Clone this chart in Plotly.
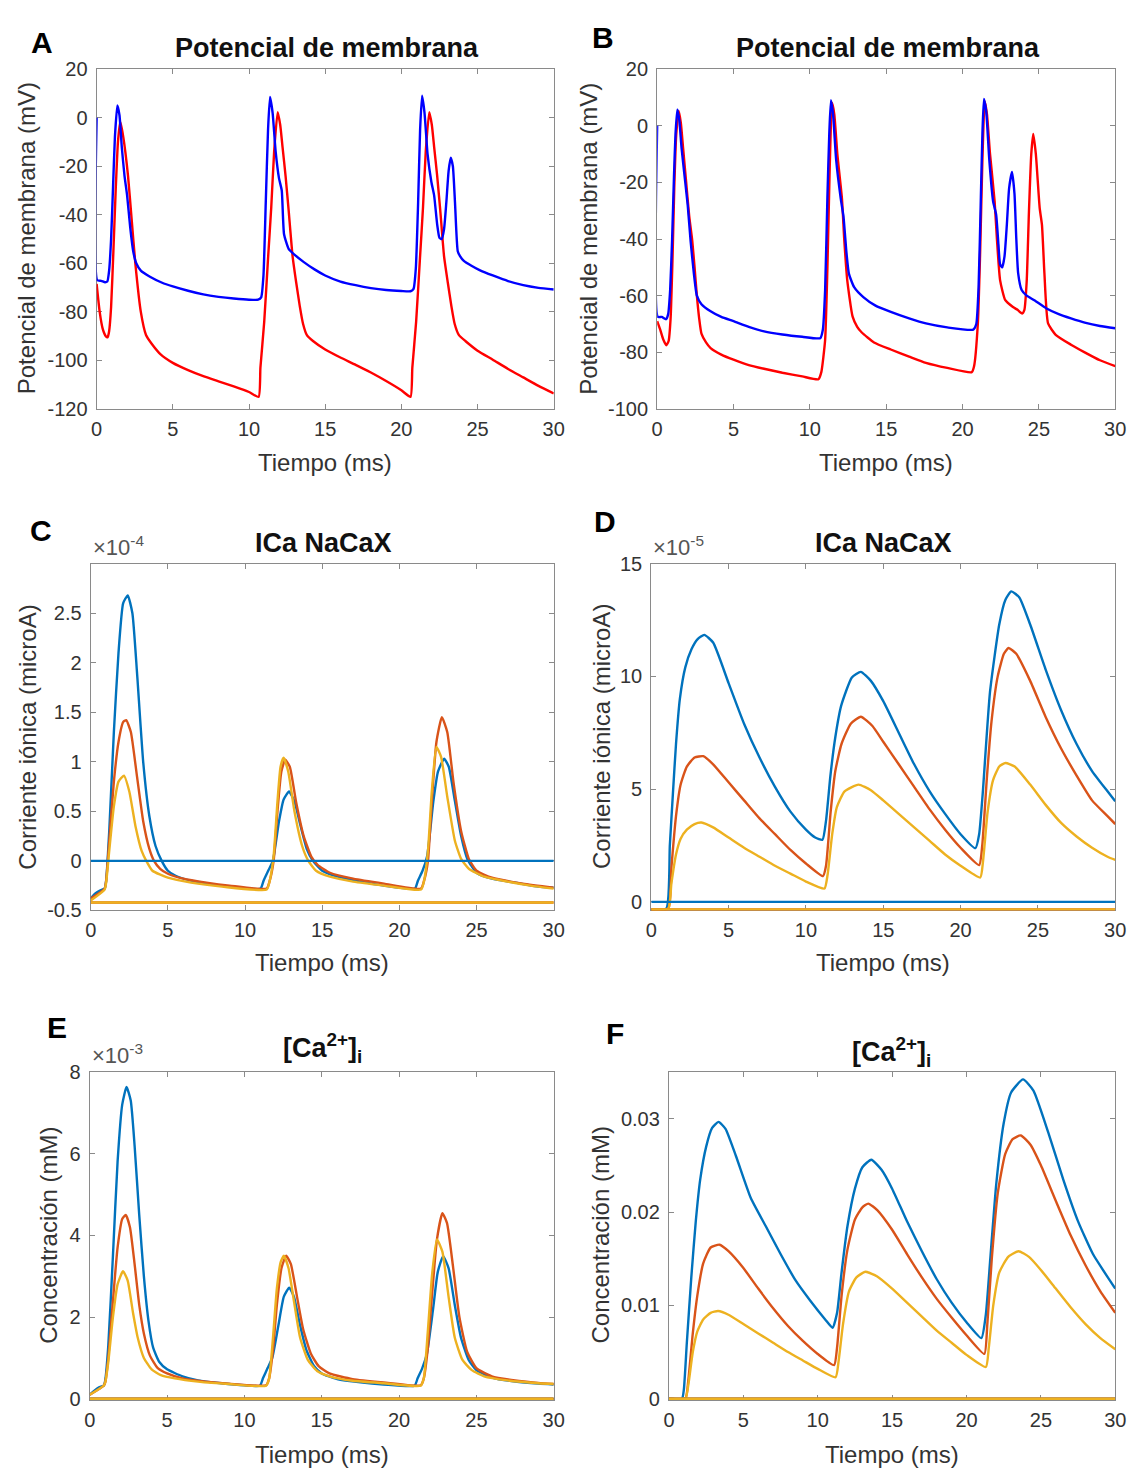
import plotly.graph_objects as go

W, H = 1143, 1476

# ---------------- DATA ----------------
time_ticks = [0, 5, 10, 15, 20, 25, 30]

# Panel A: membrane potential (mV)
A_blue = [(0,0),(0.04,-67),(0.3,-67.2),(0.55,-67.8),(0.7,-67.5),(0.82,-63),(0.95,-50),(1.08,-28),(1.2,-8),(1.36,5),(1.5,1),(1.65,-12),(1.83,-24),(2.0,-32),(2.2,-45),(2.4,-55),(2.6,-60),(2.9,-63),(3.5,-65.5),(4.3,-68),(5.0,-69.5),(6.0,-71.3),(7.0,-72.8),(8.0,-73.8),(9.0,-74.5),(10.0,-75),(10.6,-75),(10.8,-74),(10.95,-65),(11.1,-35),(11.25,-5),(11.38,8.5),(11.55,2),(11.75,-14),(11.97,-25),(12.15,-30),(12.3,-48),(12.6,-54),(13.0,-56.5),(13.6,-59.5),(14.3,-62.5),(15.0,-65),(16.0,-67.5),(17.0,-69),(18.0,-70.2),(19.0,-71),(20.0,-71.4),(20.6,-71.5),(20.8,-70.5),(20.95,-62),(21.1,-35),(21.23,-5),(21.36,9),(21.52,2),(21.72,-15),(21.97,-26.5),(22.15,-32),(22.35,-44),(22.5,-49.5),(22.65,-50),(22.8,-46),(22.95,-35),(23.1,-22),(23.24,-16.5),(23.38,-20),(23.52,-35),(23.7,-55),(23.85,-57),(24.1,-59),(24.6,-61),(25.2,-63),(26.0,-65),(27.0,-67.3),(28.0,-69),(29.0,-70.1),(30.0,-70.8)]
A_red = [(0,-68.5),(0.2,-80),(0.4,-87),(0.6,-90),(0.72,-90.5),(0.82,-88),(0.95,-78),(1.1,-55),(1.25,-30),(1.4,-10),(1.55,-1.7),(1.75,-8),(2.06,-24),(2.3,-42),(2.54,-60),(2.9,-80),(3.24,-89.5),(3.6,-93),(4.2,-97.5),(5,-101),(6,-104),(7,-106.5),(8,-108.6),(9,-110.7),(10,-113),(10.63,-115),(10.75,-103),(11.0,-84),(11.25,-58),(11.46,-37),(11.65,-14),(11.88,2.3),(12.05,-3),(12.2,-12),(12.4,-24),(12.6,-38),(12.86,-57),(13.1,-68),(13.33,-77.5),(13.55,-85),(13.8,-89.6),(14.2,-92),(15,-95.5),(16,-98.8),(17,-101.8),(18,-105),(19,-108.5),(20,-112.3),(20.6,-115),(20.72,-103),(20.97,-84),(21.22,-58),(21.42,-37),(21.6,-14),(21.83,2.3),(22.0,-3),(22.15,-12),(22.35,-24),(22.55,-38),(22.8,-57),(23.05,-68),(23.28,-77.5),(23.5,-85),(23.78,-89.6),(24.2,-92),(25,-96),(26,-99.7),(27,-103.5),(28,-107),(29,-110.5),(30,-113.6)]

# Panel B: membrane potential (mV)
B_blue = [(0,0),(0.04,-67.5),(0.3,-67.5),(0.58,-68.3),(0.72,-66.5),(0.85,-58),(0.98,-40),(1.1,-18),(1.2,-3),(1.32,5.8),(1.45,2),(1.6,-8),(1.84,-20),(2.0,-28),(2.19,-40.7),(2.4,-52),(2.6,-60),(2.9,-63),(3.5,-65.5),(4.2,-67.5),(5.0,-69),(6,-71),(7,-72.6),(8.2,-73.7),(9.5,-74.5),(10.68,-75),(10.85,-72),(11.0,-58),(11.15,-25),(11.27,-3),(11.38,9),(11.52,4),(11.72,-12),(12.02,-25.6),(12.2,-32),(12.4,-45),(12.56,-52.3),(12.9,-57),(13.5,-60.5),(14.3,-63.5),(15.3,-65.7),(16.5,-68),(17.6,-69.8),(19,-71.2),(20.7,-72),(20.9,-70),(21.05,-57),(21.2,-25),(21.3,-3),(21.4,9.5),(21.55,5),(21.75,-12),(22.0,-26.7),(22.2,-31.4),(22.35,-42),(22.46,-49),(22.6,-50),(22.75,-46),(22.9,-35),(23.05,-22),(23.24,-16.3),(23.4,-24),(23.52,-40),(23.64,-52),(23.87,-58),(24.2,-60),(24.7,-61.6),(25.5,-64.5),(26.3,-66.5),(27.1,-68),(28,-69.5),(29,-70.7),(30,-71.5)]
B_red = [(0,-69),(0.2,-72),(0.4,-75.5),(0.6,-77.5),(0.75,-76),(0.88,-68),(1.0,-48),(1.12,-22),(1.25,-3),(1.41,5.2),(1.55,1),(1.7,-8),(1.9,-20),(2.1,-32),(2.3,-40.7),(2.45,-50),(2.6,-60),(2.75,-68),(2.9,-73.4),(3.2,-76.5),(3.5,-78.5),(4.2,-80.8),(5.0,-82.6),(6,-84.5),(7,-85.8),(8.2,-87.2),(9.5,-88.5),(10.56,-89.5),(10.75,-87),(11.0,-75.6),(11.15,-50),(11.3,-15),(11.45,8.1),(11.6,4),(11.8,-10),(12.1,-25.6),(12.25,-40),(12.45,-54.6),(12.8,-67.4),(13.1,-71),(13.4,-73),(14.2,-76.5),(15.3,-79),(16.5,-81.5),(17.6,-83.7),(19,-85.5),(20.6,-87),(20.75,-85),(21.0,-70),(21.15,-45),(21.3,-12),(21.45,8.7),(21.6,4),(21.8,-10),(22.1,-26.7),(22.25,-40),(22.46,-54.6),(22.8,-61.6),(23.3,-64),(23.6,-65),(23.9,-66.3),(24.05,-65),(24.2,-55),(24.35,-30),(24.5,-10),(24.63,-2.9),(24.8,-10),(25.05,-29),(25.2,-35),(25.36,-52),(25.6,-69.8),(26.1,-73.8),(27.1,-77.3),(28,-80),(29,-82.8),(30,-84.9)]

# Panel C: ICa NaCaX (x1e-4 microA)
C_blue = [(0,-0.38),(0.3,-0.33),(0.6,-0.3),(0.9,-0.28),(1.0,-0.2),(1.2,0.3),(1.5,1.3),(1.8,2.1),(2.1,2.6),(2.4,2.68),(2.7,2.5),(3.0,1.9),(3.4,1.0),(3.8,0.45),(4.2,0.15),(4.6,0.0),(5.0,-0.1),(5.5,-0.15),(6.5,-0.2),(8,-0.24),(9.5,-0.27),(11.0,-0.28),(11.2,-0.2),(11.5,-0.1),(11.8,0.0),(12.2,0.4),(12.5,0.62),(12.85,0.7),(13.2,0.6),(13.6,0.35),(14.0,0.12),(14.4,0.0),(15,-0.1),(16,-0.16),(17.5,-0.21),(19,-0.25),(21,-0.28),(21.2,-0.2),(21.5,-0.1),(21.8,0.05),(22.2,0.6),(22.5,0.9),(22.9,1.03),(23.2,0.95),(23.6,0.6),(24.0,0.25),(24.4,0.02),(25,-0.12),(26,-0.18),(27.5,-0.22),(29,-0.26),(30,-0.27)]
C_red = [(0,-0.38),(0.9,-0.28),(1.0,-0.2),(1.2,0.2),(1.5,0.8),(1.8,1.2),(2.1,1.4),(2.3,1.42),(2.6,1.3),(3.0,0.85),(3.4,0.4),(3.8,0.12),(4.1,0.0),(4.5,-0.08),(5,-0.13),(6,-0.18),(7.5,-0.22),(9,-0.25),(11.4,-0.28),(11.6,-0.2),(11.85,0.0),(12.1,0.5),(12.35,0.9),(12.6,1.02),(12.9,0.95),(13.3,0.6),(13.8,0.25),(14.3,0.04),(14.7,-0.04),(15.5,-0.12),(17,-0.18),(19,-0.23),(21.4,-0.28),(21.6,-0.2),(21.85,0.0),(22.1,0.6),(22.4,1.2),(22.75,1.45),(23.1,1.3),(23.5,0.8),(24.0,0.3),(24.5,0.02),(25,-0.1),(26,-0.17),(28,-0.23),(30,-0.27)]
C_yellow = [(0,-0.4),(0.9,-0.29),(1.0,-0.22),(1.2,0.1),(1.5,0.55),(1.8,0.8),(2.15,0.86),(2.5,0.7),(2.9,0.35),(3.3,0.1),(3.6,0.0),(4.0,-0.1),(5,-0.17),(6.5,-0.22),(8.5,-0.26),(11.4,-0.29),(11.6,-0.2),(11.85,0.05),(12.1,0.6),(12.3,0.95),(12.5,1.04),(12.8,0.9),(13.2,0.5),(13.7,0.15),(14.1,0.0),(14.6,-0.1),(15.5,-0.16),(17,-0.21),(19,-0.25),(21.4,-0.29),(21.6,-0.2),(21.85,0.1),(22.1,0.7),(22.4,1.15),(22.7,1.05),(23.1,0.65),(23.6,0.2),(24.0,0.02),(24.5,-0.08),(25.5,-0.16),(27,-0.21),(28.5,-0.25),(30,-0.28)]
C_flat_blue = [(0,0),(30,0)]
C_flat_red = [(0,-0.42),(30,-0.42)]
C_flat_yellow = [(0,-0.42),(30,-0.42)]

# Panel D: ICa NaCaX (x1e-5 microA)
D_blue = [(0,-0.34),(0.97,-0.3),(1.2,2.5),(1.4,4.8),(1.6,7.0),(1.85,9.0),(2.2,10.4),(2.6,11.2),(3.0,11.65),(3.43,11.84),(4,11.5),(5,9.7),(6,7.9),(7,6.4),(8,5.1),(9,4.0),(10,3.2),(10.6,2.85),(11.07,2.75),(11.3,3.6),(11.58,5.57),(11.9,7.3),(12.28,8.7),(12.97,9.95),(13.55,10.2),(14.2,9.8),(15,8.9),(16,7.5),(17,6.1),(18,4.9),(19,3.9),(20,3.0),(20.96,2.38),(21.2,3.0),(21.43,4.8),(21.9,9.3),(22.5,12.3),(22.9,13.4),(23.28,13.77),(23.8,13.5),(24.5,12.3),(25.5,10.3),(26.5,8.5),(27.5,7.0),(28.5,5.8),(29.5,4.9),(30,4.46)]
D_red = [(0,-0.34),(1.1,-0.3),(1.3,1.5),(1.6,3.8),(1.9,5.2),(2.3,6.0),(2.8,6.4),(3.36,6.46),(4,6.1),(5,5.3),(6,4.5),(7,3.7),(8,3.0),(9,2.3),(10,1.7),(11.1,1.14),(11.3,1.6),(11.6,4.0),(11.9,5.8),(12.3,7.0),(12.9,7.9),(13.55,8.21),(14.3,7.8),(15,7.1),(16,6.1),(17,5.1),(18,4.1),(19,3.2),(20,2.4),(21.2,1.63),(21.4,2.5),(21.7,5.5),(22.0,8.0),(22.4,10.0),(22.8,11.0),(23.1,11.26),(23.6,11.0),(24.5,9.8),(25.5,8.2),(26.5,6.8),(27.5,5.6),(28.5,4.5),(29.5,3.8),(30,3.45)]
D_yellow = [(0,-0.34),(1.1,-0.3),(1.3,0.8),(1.6,2.1),(1.9,2.8),(2.3,3.2),(2.8,3.45),(3.24,3.52),(4,3.3),(5,2.85),(6,2.4),(7,2.0),(8,1.6),(9,1.25),(10,0.9),(11.2,0.59),(11.4,1.2),(11.7,3.0),(12.0,4.2),(12.5,4.9),(13.4,5.2),(14.2,4.95),(15,4.5),(16,3.9),(17,3.3),(18,2.7),(19,2.1),(20,1.6),(21.27,1.08),(21.45,1.8),(21.75,4.0),(22.1,5.4),(22.5,6.0),(22.9,6.16),(23.5,6.0),(24.5,5.2),(25.5,4.3),(26.5,3.5),(27.5,2.9),(28.5,2.4),(29.5,2.0),(30,1.86)]
D_flat_blue = [(0,0),(30,0)]
D_flat_red = [(0,-0.34),(30,-0.34)]
D_flat_yellow = [(0,-0.34),(30,-0.34)]

# Panel E: [Ca2+]i (x1e-3 mM)
E_blue = [(0,0.1),(0.3,0.2),(0.6,0.28),(0.9,0.32),(1.0,0.45),(1.2,1.3),(1.5,3.5),(1.8,5.8),(2.1,7.2),(2.38,7.63),(2.65,7.3),(2.9,6.2),(3.2,4.5),(3.5,3.0),(3.8,1.9),(4.1,1.25),(4.5,0.9),(5,0.72),(6,0.55),(7,0.45),(8.5,0.38),(10,0.33),(11.0,0.32),(11.2,0.5),(11.5,0.75),(11.8,1.0),(12.2,1.8),(12.55,2.5),(12.9,2.72),(13.2,2.5),(13.6,1.8),(14.0,1.2),(14.5,0.8),(15,0.62),(16,0.48),(17.5,0.4),(19,0.35),(21.0,0.32),(21.2,0.5),(21.5,0.75),(21.8,1.1),(22.2,2.2),(22.5,3.1),(22.85,3.49),(23.2,3.2),(23.6,2.3),(24.0,1.5),(24.5,0.95),(25,0.7),(26,0.52),(27.5,0.42),(29,0.37),(30,0.35)]
E_red = [(0,0.1),(0.9,0.32),(1.0,0.4),(1.2,1.0),(1.5,2.4),(1.8,3.7),(2.1,4.4),(2.33,4.5),(2.6,4.2),(2.9,3.3),(3.2,2.3),(3.5,1.6),(3.9,1.05),(4.4,0.75),(5,0.62),(6,0.5),(7.5,0.42),(9,0.37),(11.4,0.33),(11.6,0.5),(11.85,1.2),(12.1,2.3),(12.4,3.2),(12.7,3.5),(13.0,3.3),(13.4,2.5),(13.8,1.7),(14.3,1.1),(14.8,0.8),(15.5,0.62),(17,0.48),(19,0.4),(21.4,0.33),(21.6,0.5),(21.85,1.2),(22.1,2.4),(22.45,3.9),(22.8,4.54),(23.1,4.3),(23.5,3.2),(23.9,2.0),(24.4,1.15),(25,0.75),(26,0.55),(27.5,0.45),(29,0.39),(30,0.36)]
E_yellow = [(0,0.1),(0.9,0.32),(1.0,0.4),(1.2,0.9),(1.5,2.0),(1.8,2.8),(2.15,3.12),(2.45,2.9),(2.8,2.1),(3.1,1.5),(3.5,1.0),(4.0,0.72),(4.6,0.58),(5.5,0.5),(7,0.42),(9,0.36),(11.4,0.32),(11.6,0.5),(11.85,1.5),(12.1,2.7),(12.35,3.35),(12.55,3.5),(12.85,3.2),(13.2,2.4),(13.6,1.5),(14.1,0.95),(14.7,0.68),(15.5,0.55),(17,0.44),(19,0.38),(21.4,0.32),(21.6,0.5),(21.85,1.6),(22.15,3.1),(22.45,3.9),(22.8,3.6),(23.2,2.5),(23.6,1.5),(24.1,0.95),(24.7,0.7),(25.5,0.55),(27,0.45),(29,0.38),(30,0.36)]
E_flat_blue = [(0,0),(30,0)]
E_flat_red = [(0,0),(30,0)]
E_flat_yellow = [(0,0),(30,0)]

# Panel F: [Ca2+]i (mM)
F_blue = [(0,0),(0.87,0),(1.0,0.001),(1.2,0.006),(1.5,0.013),(1.8,0.019),(2.1,0.0235),(2.5,0.027),(2.9,0.029),(3.33,0.02965),(3.8,0.0289),(4.5,0.026),(5.5,0.0215),(6.5,0.0185),(7.5,0.0155),(8.5,0.0127),(9.5,0.0105),(10.5,0.0085),(11.0,0.0076),(11.3,0.0092),(11.6,0.0135),(12.0,0.0185),(12.5,0.0225),(13.0,0.0248),(13.6,0.0256),(14.3,0.0245),(15,0.0225),(16,0.019),(17,0.0158),(18,0.0128),(19,0.0103),(20,0.0082),(21.0,0.0065),(21.3,0.009),(21.6,0.015),(22.0,0.023),(22.5,0.0295),(23.0,0.0328),(23.8,0.0342),(24.5,0.033),(25.5,0.0285),(26.5,0.0235),(27.5,0.019),(28.5,0.0155),(29.5,0.013),(30,0.0118)]
F_red = [(0,0),(1.1,0),(1.3,0.002),(1.6,0.007),(1.9,0.011),(2.3,0.0145),(2.8,0.0162),(3.4,0.0165),(4,0.0158),(5,0.014),(6,0.0118),(7,0.0097),(8,0.0078),(9,0.0062),(10,0.0048),(11.1,0.0036),(11.3,0.0055),(11.6,0.011),(12.0,0.016),(12.5,0.0192),(13.0,0.0205),(13.4,0.0209),(14,0.0202),(15,0.0181),(16,0.0155),(17,0.013),(18,0.0107),(19,0.0087),(20,0.0068),(21.2,0.0048),(21.4,0.008),(21.7,0.015),(22.1,0.022),(22.6,0.0262),(23.1,0.0278),(23.65,0.0282),(24.3,0.0272),(25,0.025),(26,0.0212),(27,0.0175),(28,0.0143),(29,0.0115),(30,0.0092)]
F_yellow = [(0,0),(1.1,0),(1.3,0.0015),(1.6,0.005),(1.9,0.0072),(2.3,0.0085),(2.8,0.0092),(3.3,0.0094),(4,0.009),(5,0.008),(6,0.007),(7,0.006),(8,0.005),(9,0.0041),(10,0.0032),(11.2,0.0023),(11.4,0.004),(11.7,0.008),(12.1,0.0115),(12.6,0.013),(13.2,0.0136),(14,0.0131),(15,0.0118),(16,0.0103),(17,0.0088),(18,0.0073),(19,0.006),(20,0.0047),(21.3,0.0034),(21.5,0.0055),(21.8,0.01),(22.2,0.0135),(22.8,0.0152),(23.5,0.0158),(24.2,0.0152),(25,0.0138),(26,0.0118),(27,0.0098),(28,0.008),(29,0.0065),(30,0.0053)]
F_flat_blue = [(0,0),(30,0)]
F_flat_red = [(0,0),(30,0)]
F_flat_yellow = [(0,0),(30,0)]

A_yticks = [-120, -100, -80, -60, -40, -20, 0, 20]
A_yticklabels = ["-120", "-100", "-80", "-60", "-40", "-20", "0", "20"]
B_yticks = [-100, -80, -60, -40, -20, 0, 20]
B_yticklabels = ["-100", "-80", "-60", "-40", "-20", "0", "20"]
C_yticks = [-0.5, 0, 0.5, 1, 1.5, 2, 2.5]
C_yticklabels = ["-0.5", "0", "0.5", "1", "1.5", "2", "2.5"]
D_yticks = [0, 5, 10, 15]
D_yticklabels = ["0", "5", "10", "15"]
E_yticks = [0, 2, 4, 6, 8]
E_yticklabels = ["0", "2", "4", "6", "8"]
F_yticks = [0, 0.01, 0.02, 0.03]
F_yticklabels = ["0", "0.01", "0.02", "0.03"]

# ---------------- STYLE / LAYOUT ----------------
FONT = "Liberation Sans, Arial, sans-serif"
TXT = "#333333"
MB, MR = "#0000FF", "#FF0000"
CB, CR, CY = "#0072BD", "#D95319", "#EDB120"

panels = [
    ("A", (92, 556, 59, 404), [-120, 20], A_yticks, A_yticklabels,
     [(A_red, MR), (A_blue, MB)]),
    ("B", (661, 1126, 59, 404), [-100, 20], B_yticks, B_yticklabels,
     [(B_red, MR), (B_blue, MB)]),
    ("C", (86, 556, 561, 913), [-0.5, 3.0], C_yticks, C_yticklabels,
     [(C_blue, CB), (C_red, CR), (C_yellow, CY), (C_flat_blue, CB), (C_flat_red, CR), (C_flat_yellow, CY)]),
    ("D", (655, 1126, 561, 913), [-0.38, 15], D_yticks, D_yticklabels,
     [(D_blue, CB), (D_red, CR), (D_yellow, CY), (D_flat_blue, CB), (D_flat_red, CR), (D_flat_yellow, CY)]),
    ("E", (85, 556, 1077, 1410), [-0.03, 8], E_yticks, E_yticklabels,
     [(E_blue, CB), (E_red, CR), (E_yellow, CY), (E_flat_blue, CB), (E_flat_red, CR), (E_flat_yellow, CY)]),
    ("F", (673, 1126, 1077, 1410), [-0.00013, 0.035], F_yticks, F_yticklabels,
     [(F_blue, CB), (F_red, CR), (F_yellow, CY), (F_flat_blue, CB), (F_flat_red, CR), (F_flat_yellow, CY)]),
]

fig = go.Figure()
layout_axes = {}
for i, (key, (l, r, t, b), yr, yt, ytl, series) in enumerate(panels, start=1):
    xa = "x" if i == 1 else f"x{i}"
    ya = "y" if i == 1 else f"y{i}"
    for pts, col in series:
        fig.add_trace(go.Scatter(
            x=[p[0] for p in pts], y=[p[1] for p in pts], mode="lines",
            line=dict(color=col, width=2.4, shape="spline", smoothing=0.5),
            xaxis=xa, yaxis=ya, showlegend=False, hoverinfo="skip"))
    common = dict(showline=True, linecolor="#8a8a8a", linewidth=1.2, mirror="ticks",
                  ticks="inside", ticklen=5, tickwidth=1, tickcolor="#8a8a8a",
                  showgrid=False, zeroline=False, layer="below traces",
                  tickfont=dict(family=FONT, size=20, color=TXT))
    layout_axes["xaxis" if i == 1 else f"xaxis{i}"] = dict(
        common, domain=[l / W, r / W], range=[0, 30], tickvals=time_ticks,
        ticktext=[str(v) for v in time_ticks], anchor=ya, ticklabelstandoff=2)
    layout_axes["yaxis" if i == 1 else f"yaxis{i}"] = dict(
        common, domain=[1 - b / H, 1 - t / H], range=yr, tickvals=yt, ticktext=ytl,
        anchor=xa, ticklabelstandoff=4)

fig.update_layout(**layout_axes)

def P(x, y):
    return x / W, 1 - y / H

ann = []
def add_text(x, y, text, size, bold=False, angle=0, xanchor="center", yanchor="middle", color=TXT):
    px_, py_ = P(x, y)
    ann.append(dict(x=px_, y=py_, xref="paper", yref="paper", text=(f"<b>{text}</b>" if bold else text),
                    showarrow=False, textangle=angle, xanchor=xanchor, yanchor=yanchor,
                    font=dict(family=FONT, size=size, color=color)))

# panel letters
for letter, (x, y) in {"A": (37, 32), "B": (606, 27), "C": (36, 527), "D": (608, 518),
                       "E": (52, 1032), "F": (618, 1038)}.items():
    add_text(x, y, letter, 30, bold=True, color="#000000")

# titles
title_pos = {"A": (326, 38), "B": (895, 38), "C": (322, 540), "D": (891, 540),
             "E": (321, 1053), "F": (899, 1057)}
titles = {"A": "Potencial de membrana", "B": "Potencial de membrana",
          "C": "ICa NaCaX", "D": "ICa NaCaX",
          "E": "[Ca<sup>2+</sup>]<sub>i</sub>", "F": "[Ca<sup>2+</sup>]<sub>i</sub>"}
for k, (x, y) in title_pos.items():
    add_text(x, y, titles[k], 27, bold=True, color="#111111")

# x-axis titles
for x, y in [(324, 458), (893, 458), (321, 966), (890, 966), (321, 1465), (899, 1465)]:
    add_text(x, y, "Tiempo (ms)", 24)

# y-axis titles
ylabels = [(21, 231, "Potencial de membrana (mV)"), (591, 231, "Potencial de membrana (mV)"),
           (21, 737, "Corriente iónica (microA)"), (604, 737, "Corriente iónica (microA)"),
           (43, 1243, "Concentración (mM)"), (603, 1243, "Concentración (mM)")]
for x, y, t in ylabels:
    add_text(x, y, t, 24, angle=-90)

# exponent labels
for x, y, t in [(86, 559, "×10<sup>-4</sup>"), (655, 559, "×10<sup>-5</sup>"), (85, 1075, "×10<sup>-3</sup>")]:
    add_text(x, y, t, 22, xanchor="left", yanchor="bottom", color="#555555")

fig.update_layout(annotations=ann, width=W, height=H, margin=dict(l=0, r=0, t=0, b=0),
                  paper_bgcolor="white", plot_bgcolor="white", showlegend=False)

fig.write_html("out.html")
